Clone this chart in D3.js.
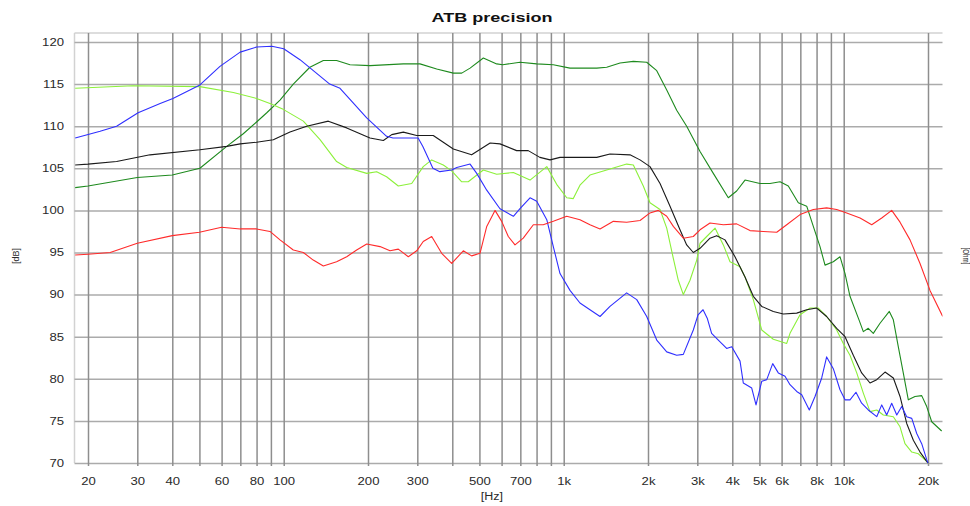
<!DOCTYPE html>
<html>
<head>
<meta charset="utf-8">
<script src="https://cdn.jsdelivr.net/npm/d3@7"></script>
<style>
  html, body { margin: 0; padding: 0; background: #fff; }
  svg { display: block; font-family: "Liberation Sans", Arial, sans-serif; }
</style>
</head>
<body>
<svg id="chart" width="970" height="506"></svg>
<script>
// ---------- data ----------
const title = "ATB precision";
const xAxisLabel = "[Hz]";
const yAxisLabel = "[dB]";
const y2AxisLabel = "[Ohm]";

const freqTicks  = [20,30,40,50,60,70,80,90,100,200,300,400,500,600,700,800,900,1000,2000,3000,4000,5000,6000,7000,8000,9000,10000,20000];
const freqLabels = ["20","30","40","","60","","80","","100","200","300","","500","","700","","","1k","2k","3k","4k","5k","6k","","8k","","10k","20k"];
const dbTicks    = [70,75,80,85,90,95,100,105,110,115,120];

const seriesColors = ["#1e8a1e", "#8cf03a", "#1a1a1a", "#2f2fff", "#ff2b2b"];

const darkGreen = [
  [18,102.7],[20,102.9],[30,103.9],[40,104.2],[50.2,105.0],[62.6,107.6],[71.7,109.1],[80,110.5],[87,111.6],
  [97,113.1],[108.2,115.0],[124,117.0],[138.5,117.8],[154.5,117.8],[172.5,117.3],[203.3,117.2],[267.4,117.4],
  [306.7,117.4],[351.9,116.8],[403.4,116.3],[432.3,116.3],[463,116.9],[516.3,118.1],[576.3,117.4],[606,117.3],
  [698,117.6],[801,117.4],[918,117.3],[1053,116.9],[1312,116.9],[1424,117.0],[1589,117.5],[1773,117.7],
  [1979,117.6],[2149,116.6],[2333,114.3],[2532,111.9],[2749,110.0],[3068,107.0],[3422,104.4],[3871,101.5],
  [4146,102.3],[4441,103.6],[5023,103.2],[5454,103.2],[5924,103.4],[6340,102.9],[6884,100.9],[7376,100.5],
  [7788,98.1],[8229,95.7],[8575,93.5],[9180,93.9],[9700,94.5],[10110,92.5],[10530,89.8],[11340,87.0],
  [11750,85.6],[12240,86.0],[12755,85.4],[13480,86.6],[14550,88.0],[15040,87.0],[15670,83.8],[16320,80.7],
  [17010,77.5],[17970,77.9],[18990,78.0],[19790,76.7],[20620,74.9],[22380,73.8]
];

const lightGreen = [
  [18,114.5],[29,114.8],[50.2,114.7],[66.1,114.0],[80,113.3],[89.3,112.7],[99.6,112.0],[117.5,110.6],
  [134.8,108.4],[154.5,105.8],[167.9,105.1],[197.9,104.4],[214.8,104.6],[233,104.0],[256.6,102.9],[286.5,103.2],
  [315,105.2],[337.7,106.0],[371.5,105.4],[398,104.7],[432.3,103.4],[456,103.4],[516.3,104.8],[576.3,104.3],
  [661,104.5],[758,103.6],[870,105.2],[943.7,103.1],[1025,101.5],[1082,101.4],[1143,103.0],[1241,104.2],
  [1424,104.8],[1678,105.5],[1773,105.4],[1924,102.9],[2033,100.9],[2208,100.1],[2333,97.9],[2463,94.3],
  [2566,91.7],[2674,90.0],[2825,91.7],[2986,94.1],[3068,96.1],[3241,96.9],[3471,97.9],[3716,95.9],
  [3926,93.9],[4263,93.3],[4441,92.1],[4755,89.4],[5095,85.8],[5604,84.7],[6258,84.2],[6430,85.4],
  [6982,87.6],[7585,88.4],[8116,88.4],[8690,87.4],[9439,85.8],[9966,84.2],[10530,82.8],[11130,80.7],
  [11750,78.3],[12415,76.1],[13120,76.3],[13850,75.7],[15040,75.5],[15890,74.3],[16550,72.3],[17500,71.3],
  [18470,71.1],[19790,70.2],[20000,70.0]
];

const black = [
  [18,105.4],[20,105.5],[25.3,105.8],[33.3,106.6],[50.2,107.2],[62.6,107.6],[69.9,107.9],[80,108.1],
  [91.8,108.4],[105.3,109.3],[120.8,110.0],[144.3,110.6],[167.9,109.8],[203.3,108.6],[226.9,108.3],
  [243.1,109.0],[267.4,109.3],[298.5,108.9],[342,108.9],[403.4,107.3],[469,106.6],[546,108.0],[592,107.9],
  [679,107.1],[747,107.1],[822,106.3],[894,106.0],[970,106.3],[1143,106.3],[1312,106.3],[1463,106.7],
  [1725,106.6],[1873,106.0],[2033,105.2],[2208,103.2],[2397,100.5],[2602,97.7],[2749,95.9],[2903,95.0],
  [3068,95.5],[3330,96.7],[3518,97.0],[3767,96.5],[4090,94.5],[4441,92.1],[4755,89.8],[5095,88.6],
  [5604,88.0],[6085,87.7],[6795,87.8],[7376,88.2],[8008,88.4],[8690,87.4],[9439,86.0],[10110,85.0],
  [10820,82.8],[11590,80.7],[12415,79.5],[13120,79.9],[14045,80.8],[15040,80.1],[15890,77.9],[16790,74.7],
  [17730,72.7],[18730,71.3],[19790,70.2],[20000,70.0]
];

const blue = [
  [18,108.6],[22.1,109.4],[25.3,110.0],[30.2,111.6],[36.2,112.7],[40.2,113.3],[50.2,114.9],[59.2,117.1],
  [69.9,118.8],[80,119.4],[90.7,119.5],[100,119.2],[114.3,117.9],[146,115.0],[158.9,114.5],[197.9,111.0],
  [233,108.8],[245.7,108.6],[302,108.6],[314,107.6],[341,105.0],[361,104.6],[398,104.8],[415,105.1],
  [463,105.5],[489,104.4],[531,102.4],[592,100.2],[661,99.3],[698,100.2],[758,101.5],[801,101.1],
  [870,98.9],[918,95.7],[970,92.5],[1053,90.5],[1143,89.0],[1241,88.2],[1348,87.4],[1463,88.6],
  [1678,90.2],[1823,89.4],[1979,87.4],[2149,84.6],[2333,83.2],[2532,82.8],[2674,82.9],[2903,85.8],
  [3018,87.6],[3145,88.2],[3255,87.2],[3375,85.4],[3566,84.6],[3819,83.6],[3982,83.8],[4263,82.1],
  [4379,79.5],[4693,78.9],[4862,76.9],[5095,79.7],[5311,79.9],[5577,81.8],[5840,80.7],[6170,80.3],
  [6430,79.3],[6795,78.5],[7080,78.1],[7536,76.3],[7898,77.9],[8345,80.1],[8690,82.6],[9180,81.2],
  [9700,78.7],[10110,77.5],[10530,77.5],[11060,78.4],[11590,77.1],[12240,76.3],[13120,75.5],[13670,76.9],
  [14240,75.7],[14840,77.1],[15470,75.7],[16110,76.7],[16790,75.5],[17500,75.3],[18230,73.5],[18990,72.3],
  [19790,70.4],[20000,70.0]
];

const red = [
  [18,94.7],[20,94.8],[24,95.0],[30,96.1],[40,97.0],[50,97.4],[60,98.0],[70,97.8],[80,97.8],[89.3,97.5],
  [97,96.5],[108.2,95.3],[117.5,95.0],[127.5,94.1],[138.5,93.4],[154.5,93.9],[167.9,94.5],[182.2,95.3],
  [197.9,96.0],[220.8,95.7],[239.7,95.2],[256.6,95.4],[278.6,94.5],[298.5,95.2],[315,96.3],[337.7,96.9],
  [366.6,94.9],[398,93.7],[437.9,95.2],[469,94.6],[502.4,94.9],[531,98.1],[568.4,100.0],[600.5,98.7],
  [634,96.9],[670,95.9],[717,96.7],[779,98.3],[845,98.3],[918,98.7],[1025,99.3],[1143,98.9],[1241,98.3],
  [1348,97.8],[1504,98.7],[1678,98.6],[1873,98.8],[2033,99.7],[2177,100.0],[2333,99.3],[2463,98.1],
  [2674,96.7],[2903,96.9],[3068,97.7],[3330,98.5],[3716,98.3],[4146,98.4],[4627,97.6],[5163,97.5],
  [5764,97.4],[6258,98.3],[6982,99.5],[7788,100.1],[8690,100.3],[9439,100.1],[10250,99.7],[11440,99.1],
  [12590,98.3],[13670,99.1],[14840,100.0],[15890,98.6],[17250,96.5],[18730,93.7],[20330,90.5],[22570,87.4]
];

const seriesList = [darkGreen, lightGreen, black, blue, red];

// ---------- layout ----------
const W = 970, H = 506;
const svg = d3.select("#chart");

const x = d3.scaleLog().domain([20, 20000]).range([88, 928]);
const y = d3.scaleLinear().domain([70, 120]).range([463, 42]);

const xMin = x.invert(74.5), xMax = x.invert(942.5);
const yTop = 33;

const stretch = 1.25;
function stretchText(sel) {
  sel.each(function () {
    const n = this.getComputedTextLength();
    if (n > 0) {
      d3.select(this).attr("textLength", n * stretch).attr("lengthAdjust", "spacingAndGlyphs");
    }
  });
}

// frame (top and left light lines)
svg.append("line").attr("x1", x(xMin)).attr("x2", x(xMax)).attr("y1", yTop).attr("y2", yTop)
  .attr("stroke", "#d2d2d2").attr("stroke-width", 1.5);
svg.append("line").attr("x1", x(xMin)).attr("x2", x(xMin)).attr("y1", yTop).attr("y2", y(70))
  .attr("stroke", "#d2d2d2").attr("stroke-width", 1.5);

// horizontal gridlines
const yGrid = svg.append("g").attr("class", "ygrid")
  .attr("transform", `translate(${x(xMin)},0)`)
  .call(d3.axisLeft(y).tickValues(dbTicks).tickSize(-(x(xMax) - x(xMin))).tickFormat(""));
yGrid.select(".domain").remove();
yGrid.selectAll(".tick line").attr("stroke", "#ababab").attr("stroke-width", 1.5);

// vertical gridlines (extend slightly below bottom)
const xGrid = svg.append("g").attr("class", "xgrid")
  .attr("transform", `translate(0,${y(70) + 3})`)
  .call(d3.axisBottom(x).tickValues(freqTicks).tickSize(-(y(70) + 3 - yTop)).tickFormat(""));
xGrid.select(".domain").remove();
xGrid.selectAll(".tick line").attr("stroke", "#8e8e8e").attr("stroke-width", 1.5);

// y tick labels
const yAxis = svg.append("g").attr("class", "yaxis")
  .attr("transform", `translate(64,0)`)
  .call(d3.axisLeft(y).tickValues(dbTicks).tickSize(0).tickPadding(0).tickFormat(d3.format("d")));
yAxis.select(".domain").remove();
yAxis.selectAll("text").attr("font-size", "10.5px").attr("fill", "#2a2a2a")
  .attr("font-family", "'Liberation Sans', Arial, sans-serif").call(stretchText);

// x tick labels
const xAxis = svg.append("g").attr("class", "xaxis")
  .attr("transform", `translate(0,478)`)
  .call(d3.axisBottom(x).tickValues(freqTicks).tickSize(0).tickPadding(0)
    .tickFormat((d, i) => freqLabels[i]));
xAxis.select(".domain").remove();
xAxis.selectAll("text").attr("font-size", "10.5px").attr("fill", "#2a2a2a")
  .attr("font-family", "'Liberation Sans', Arial, sans-serif").call(stretchText);

// curves
const line = d3.line().x(d => x(d[0])).y(d => y(d[1])).curve(d3.curveLinear);
const clip = svg.append("clipPath").attr("id", "plotclip").append("rect")
  .attr("x", x(xMin)).attr("y", yTop).attr("width", x(xMax) - x(xMin)).attr("height", y(70) - yTop + 1);
svg.append("g").attr("clip-path", "url(#plotclip)")
  .selectAll("path").data(seriesList).join("path")
  .attr("d", line)
  .attr("fill", "none")
  .attr("stroke", (d, i) => seriesColors[i])
  .attr("stroke-width", 1.1)
  .attr("stroke-linejoin", "round");

// title
svg.append("text").attr("x", 492).attr("y", 22).attr("text-anchor", "middle")
  .attr("font-size", "13px").attr("font-weight", "bold").attr("fill", "#111")
  .attr("textLength", 121).attr("lengthAdjust", "spacingAndGlyphs")
  .text(title);

// axis labels
svg.append("text").attr("x", 492).attr("y", 500).attr("text-anchor", "middle")
  .attr("font-size", "10px").attr("fill", "#2a2a2a").text(xAxisLabel).call(stretchText);

svg.append("text").attr("transform", "translate(19,256) rotate(-90)").attr("text-anchor", "middle")
  .attr("font-size", "9px").attr("fill", "#2a2a2a").text(yAxisLabel);

svg.append("text").attr("transform", "translate(963,256) rotate(90)").attr("text-anchor", "middle")
  .attr("font-size", "9px").attr("fill", "#2a2a2a")
  .attr("textLength", 17).attr("lengthAdjust", "spacingAndGlyphs").text(y2AxisLabel);
</script>
</body>
</html>
